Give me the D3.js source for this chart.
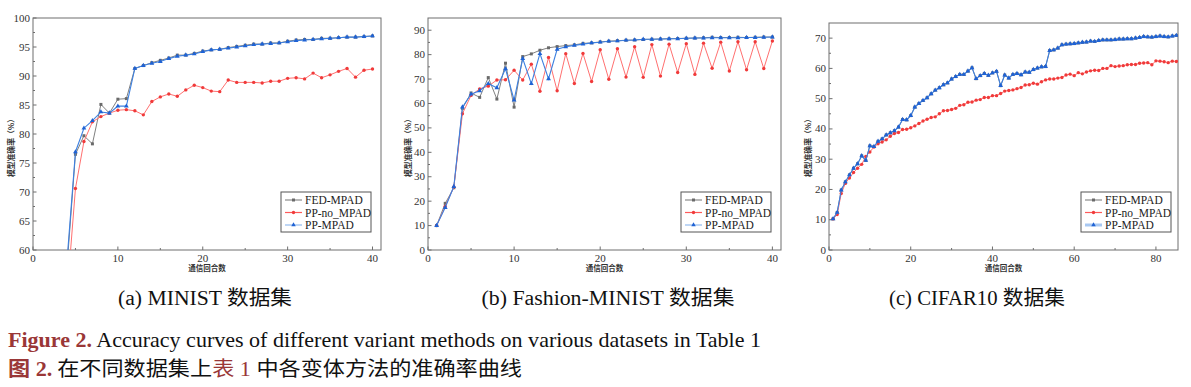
<!DOCTYPE html>
<html>
<head>
<meta charset="utf-8">
<script src="https://cdn.jsdelivr.net/npm/d3@7"></script>
<style>
  body { margin: 0; background: #fff; }
  svg { display: block; }
</style>
</head>
<body>
<div id="chart"></div>
<script>
// Series names
const seriesNames = ['FED-MPAD', 'PP-no_MPAD', 'PP-MPAD'];

// (a) MINIST, rounds 1..40
const mnistFed = [12, 25, 40, 57, 76.5, 79.7, 78.3, 85.1, 83.6, 86.0, 86.1, 91.3, 91.8, 92.3, 92.7, 93.1, 93.6, 93.6, 93.9, 94.3,
  94.5, 94.6, 94.9, 95.1, 95.3, 95.5, 95.5, 95.7, 95.7, 96.0, 96.2, 96.3, 96.3, 96.5, 96.5, 96.6, 96.7, 96.7, 96.8, 96.9];
const mnistNo = [11, 22, 35, 52, 70.6, 78.7, 82.1, 83.0, 83.6, 84.1, 84.2, 84.0, 83.3, 85.6, 86.4, 86.9, 86.5, 87.6, 88.4, 88.0,
  87.4, 87.3, 89.3, 88.9, 88.9, 88.9, 88.8, 89.1, 89.1, 89.6, 89.7, 89.5, 90.5, 89.7, 90.2, 90.8, 91.3, 89.8, 91.0, 91.2];
const mnistPP = [12, 26, 41, 58, 76.9, 81.0, 82.3, 83.8, 83.6, 84.8, 84.8, 91.3, 91.8, 92.2, 92.5, 93.0, 93.4, 93.6, 93.8, 94.2,
  94.5, 94.6, 94.8, 95.0, 95.2, 95.4, 95.5, 95.6, 95.7, 95.9, 96.1, 96.2, 96.3, 96.4, 96.5, 96.6, 96.7, 96.7, 96.8, 96.9];

// (b) Fashion-MINIST, rounds 1..40
const fashionFed = [10, 19.1, 25.5, 58.0, 64.3, 62.5, 70.6, 61.8, 76.5, 58.5, 79.2, 80.3, 81.8, 82.8, 83.3, 83.7, 84.0, 84.6, 84.8, 85.2,
  85.5, 85.7, 85.9, 86.0, 86.2, 86.3, 86.4, 86.5, 86.6, 86.7, 86.8, 86.9, 87.1, 87.0, 87.0, 87.1, 87.0, 87.1, 87.2, 87.2];
const fashionNo = [10, 17.8, 25.8, 55.8, 63.3, 66.0, 67.1, 69.6, 69.7, 73.6, 69.6, 76.1, 65.0, 78.8, 65.2, 80.4, 68.2, 80.5, 69.0, 82.0,
  69.9, 82.4, 70.8, 83.2, 70.7, 84.1, 71.2, 84.3, 72.7, 84.5, 71.9, 84.7, 74.4, 85.1, 73.3, 85.3, 73.8, 85.3, 74.3, 85.6];
const fashionPP = [10, 17.4, 26.0, 58.5, 63.8, 65.2, 68.1, 66.4, 74.2, 61.4, 78.4, 68.1, 80.4, 70.1, 82.2, 83.2, 83.8, 84.3, 84.8, 85.1,
  85.5, 85.6, 85.9, 86.0, 86.3, 86.3, 86.4, 86.5, 86.5, 86.7, 86.8, 86.8, 86.9, 86.9, 86.9, 86.9, 87.0, 87.0, 87.1, 87.2];

// (c) CIFAR10, rounds 1..85 (FED-MPAD lies under PP-MPAD)
const cifarPP = [10.3, 12.4, 19.8, 22.5, 24.8, 27.0, 28.5, 31.1, 29.6, 34.4, 34.2, 35.9, 36.7, 38.0, 38.7, 39.4, 40.6, 43.1, 43.0, 44.4,
  47.2, 48.4, 49.4, 50.3, 51.6, 52.8, 53.6, 54.6, 55.2, 56.5, 57.3, 58.0, 58.0, 59.1, 60.2, 56.6, 57.6, 58.3, 57.7, 58.5,
  59.0, 54.3, 57.8, 56.8, 58.0, 58.3, 57.9, 58.8, 58.7, 59.6, 60.1, 60.5, 60.6, 65.9, 66.1, 66.7, 67.8, 68.0, 68.1, 68.2,
  68.4, 68.6, 68.7, 69.0, 68.9, 69.2, 69.4, 69.4, 69.4, 69.5, 69.7, 69.7, 69.8, 69.8, 70.0, 70.2, 70.5, 70.4, 70.3, 70.5,
  70.7, 70.5, 70.4, 70.7, 70.9];
const cifarFed = cifarPP.slice();
const cifarNo = [10.3, 11.7, 18.7, 22.0, 23.8, 25.6, 27.0, 28.3, 30.9, 32.4, 34.0, 35.1, 35.7, 36.4, 37.6, 38.5, 38.8, 39.8, 39.9, 40.4,
  41.0, 41.8, 42.6, 43.2, 43.8, 44.0, 45.0, 46.0, 46.1, 46.4, 46.8, 47.8, 48.0, 48.8, 48.9, 49.5, 49.7, 50.4, 50.4, 51.0,
  51.0, 51.7, 52.5, 52.7, 52.9, 53.3, 53.7, 54.5, 54.6, 55.1, 54.8, 55.6, 56.2, 56.5, 56.5, 56.8, 57.0, 57.8, 58.1, 57.6,
  58.6, 58.2, 58.8, 59.2, 59.4, 59.3, 60.0, 60.0, 60.9, 60.6, 60.8, 60.9, 61.2, 61.3, 61.3, 61.7, 61.8, 61.9, 61.2, 62.5,
  62.4, 62.2, 61.9, 62.4, 62.3];

const captions = ['(a) MINIST 数据集', '(b) Fashion-MINIST 数据集', '(c) CIFAR10 数据集'];
const xLabel = '通信回合数';
const yLabel = '模型准确率（%）';

const width = 1191, height = 387;
const serif = "'Liberation Serif', 'Times New Roman', 'Noto Sans CJK SC', serif";
const cjk = "'Noto Sans CJK SC', sans-serif";
const axisColor = '#6e6e6e';
const colors = {
  fedLine: '#808080', fedMark: '#6a6a6a',
  noLine: '#ff7070', noMark: '#f03a3a',
  ppLine: '#3d80e0', ppMark: '#1f62d4'
};

const svg = d3.select('#chart').append('svg')
  .attr('width', width)
  .attr('height', height)
  .attr('viewBox', `0 0 ${width} ${height}`);

const panels = [
  { left: 33, right: 381, top: 18, bottom: 250, xMax: 41, yMin: 60, yMax: 100, xMajor: 10, yMajor: 5,
    fed: mnistFed, no: mnistNo, pp: mnistPP, yLabelX: 11, legendX: 281, legendBlueW: 1.5, cap: 205, capW: 174 },
  { left: 428, right: 781, top: 18, bottom: 250, xMax: 41, yMin: 0, yMax: 95, xMajor: 10, yMajor: 10,
    fed: fashionFed, no: fashionNo, pp: fashionPP, yLabelX: 408, legendX: 681, legendBlueW: 1.5, cap: 608, capW: 253 },
  { left: 829, right: 1178, top: 23, bottom: 250, xMax: 85.4, yMin: 0, yMax: 75, xMajor: 20, yMajor: 10,
    fed: cifarFed, no: cifarNo, pp: cifarPP, yLabelX: 808, legendX: 1081, legendBlueW: 3, cap: 977, capW: 176 }
];

panels.forEach((p, idx) => drawPanel(p, idx));

function drawPanel(p, idx) {
  const x = d3.scaleLinear().domain([0, p.xMax]).range([p.left, p.right]);
  const y = d3.scaleLinear().domain([p.yMin, p.yMax]).range([p.bottom, p.top]);
  const g = svg.append('g');

  const clipId = 'clip-' + idx;
  svg.append('clipPath').attr('id', clipId)
    .append('rect')
    .attr('x', p.left).attr('y', p.top)
    .attr('width', p.right - p.left).attr('height', p.bottom - p.top);

  // frame
  g.append('rect')
    .attr('x', p.left).attr('y', p.top)
    .attr('width', p.right - p.left).attr('height', p.bottom - p.top)
    .attr('fill', 'none').attr('stroke', axisColor).attr('stroke-width', 1);

  // y ticks (inward)
  const yMajorTicks = d3.range(p.yMin, p.yMax + 0.001, p.yMajor);
  const yMinorTicks = d3.range(p.yMin + p.yMajor / 2, p.yMax, p.yMajor);
  g.selectAll('.ymaj').data(yMajorTicks).enter().append('line')
    .attr('x1', p.left).attr('x2', p.left + 3.5)
    .attr('y1', d => y(d)).attr('y2', d => y(d))
    .attr('stroke', axisColor).attr('stroke-width', 1);
  g.selectAll('.ymin').data(yMinorTicks).enter().append('line')
    .attr('x1', p.left).attr('x2', p.left + 2)
    .attr('y1', d => y(d)).attr('y2', d => y(d))
    .attr('stroke', axisColor).attr('stroke-width', 1);
  g.selectAll('.ylab').data(yMajorTicks).enter().append('text')
    .attr('x', p.left - 3).attr('y', d => y(d) + 3.5)
    .attr('text-anchor', 'end')
    .attr('font-family', serif).attr('font-size', 11)
    .attr('fill', '#333')
    .text(d => d);

  // x ticks (inward)
  const xMajorTicks = d3.range(0, p.xMax + 0.001, p.xMajor);
  const xMinorTicks = d3.range(p.xMajor / 2, p.xMax, p.xMajor);
  g.selectAll('.xmaj').data(xMajorTicks).enter().append('line')
    .attr('x1', d => x(d)).attr('x2', d => x(d))
    .attr('y1', p.bottom).attr('y2', p.bottom - 3.5)
    .attr('stroke', axisColor).attr('stroke-width', 1);
  g.selectAll('.xmin').data(xMinorTicks).enter().append('line')
    .attr('x1', d => x(d)).attr('x2', d => x(d))
    .attr('y1', p.bottom).attr('y2', p.bottom - 2)
    .attr('stroke', axisColor).attr('stroke-width', 1);
  g.selectAll('.xlab').data(xMajorTicks).enter().append('text')
    .attr('x', d => x(d)).attr('y', p.bottom + 12)
    .attr('text-anchor', 'middle')
    .attr('font-family', serif).attr('font-size', 11)
    .attr('fill', '#333')
    .text(d => d);

  // axis titles
  g.append('text')
    .attr('x', (p.left + p.right) / 2).attr('y', 271)
    .attr('text-anchor', 'middle')
    .attr('font-family', cjk).attr('font-size', 7.5).attr('font-weight', 'bold')
    .attr('fill', '#333')
    .text(xLabel);
  g.append('text')
    .attr('transform', `translate(${p.yLabelX + 2.5}, 146) rotate(-90)`)
    .attr('text-anchor', 'middle')
    .attr('font-family', cjk).attr('font-size', 7.8).attr('font-weight', 'bold')
    .attr('fill', '#333')
    .text(yLabel);

  // series
  const plot = g.append('g').attr('clip-path', `url(#${clipId})`);
  const line = d3.line().x((d, i) => x(i + 1)).y(d => y(d));
  const series = [
    { data: p.fed, line: colors.fedLine, mark: colors.fedMark, shape: d3.symbolSquare, size: 9, w: 1 },
    { data: p.no, line: colors.noLine, mark: colors.noMark, shape: d3.symbolCircle, size: 9, w: 1 },
    { data: p.pp, line: colors.ppLine, mark: colors.ppMark, shape: d3.symbolTriangle, size: 10, w: 1.1 }
  ];
  series.forEach(s => {
    plot.append('path')
      .datum(s.data)
      .attr('d', line)
      .attr('fill', 'none')
      .attr('stroke', s.line)
      .attr('stroke-width', s.w);
    plot.selectAll(null).data(s.data).enter().append('path')
      .attr('transform', (d, i) => `translate(${x(i + 1)},${y(d)})`)
      .attr('d', d3.symbol().type(s.shape).size(s.size))
      .attr('fill', s.mark);
  });

  // legend
  const lx = p.legendX, ly = 192;
  g.append('rect')
    .attr('x', lx).attr('y', ly).attr('width', 90).attr('height', 40)
    .attr('fill', '#fff').attr('stroke', '#555').attr('stroke-width', 1);
  const legendItems = [
    { name: seriesNames[0], line: '#8a8a8a', mark: colors.fedMark, shape: d3.symbolSquare, w: 1.2 },
    { name: seriesNames[1], line: '#ff5a5a', mark: colors.noMark, shape: d3.symbolCircle, w: 1.2 },
    { name: seriesNames[2], line: '#a8c8f2', mark: colors.ppMark, shape: d3.symbolTriangle, w: p.legendBlueW }
  ];
  legendItems.forEach((it, i) => {
    const cy = ly + 8 + i * 12.5;
    g.append('line')
      .attr('x1', lx + 4).attr('x2', lx + 21)
      .attr('y1', cy).attr('y2', cy)
      .attr('stroke', it.line).attr('stroke-width', it.w);
    g.append('path')
      .attr('transform', `translate(${lx + 12.5},${cy})`)
      .attr('d', d3.symbol().type(it.shape).size(9))
      .attr('fill', it.mark);
    g.append('text')
      .attr('x', lx + 24).attr('y', cy + 4)
      .attr('font-family', serif).attr('font-size', 11.5)
      .attr('fill', '#222')
      .text(it.name);
  });

  // sub caption
  svg.append('text')
    .attr('x', p.cap - p.capW / 2).attr('y', 305)
    .attr('font-family', serif).attr('font-size', 20)
    .attr('textLength', p.capW).attr('lengthAdjust', 'spacingAndGlyphs')
    .attr('fill', '#111')
    .text(captions[idx]);
}

// figure caption
const figRed = '#9a3737';
const capEn = svg.append('text')
  .attr('x', 8).attr('y', 347)
  .attr('font-family', serif).attr('font-size', 21)
  .attr('textLength', 753).attr('lengthAdjust', 'spacingAndGlyphs');
capEn.append('tspan').attr('fill', figRed).attr('font-weight', 'bold').text('Figure 2.');
capEn.append('tspan').attr('fill', '#111').text(' Accuracy curves of different variant methods on various datasets in Table 1');

const capZh = svg.append('text')
  .attr('x', 8).attr('y', 376)
  .attr('font-family', serif).attr('font-size', 20.5)
  .attr('textLength', 514).attr('lengthAdjust', 'spacingAndGlyphs');
capZh.append('tspan').attr('fill', figRed).attr('font-weight', 'bold').text('图 2.');
capZh.append('tspan').attr('fill', '#111').attr('font-family', cjk).text('  在不同数据集上');
capZh.append('tspan').attr('fill', figRed).attr('font-family', cjk).text('表');
capZh.append('tspan').attr('fill', figRed).text(' 1 ');
capZh.append('tspan').attr('fill', '#111').attr('font-family', cjk).text('中各变体方法的准确率曲线');
</script>
</body>
</html>
